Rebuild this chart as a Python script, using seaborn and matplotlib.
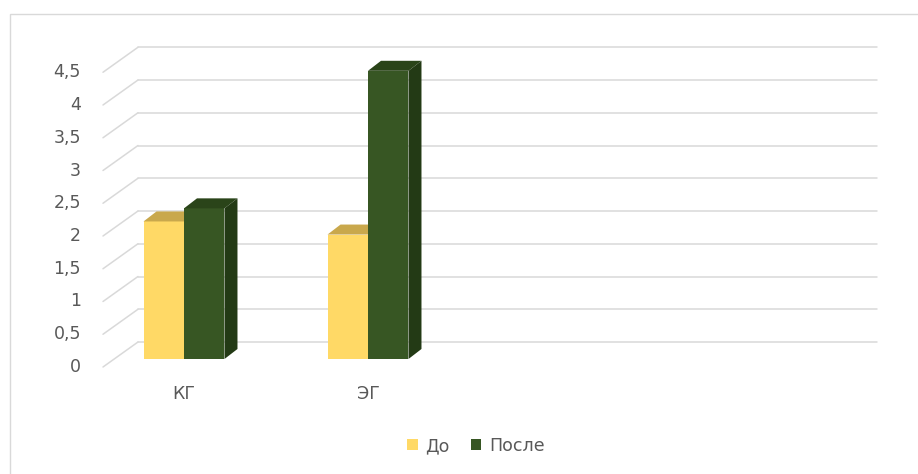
import matplotlib
matplotlib.use("Agg")
import matplotlib.pyplot as plt
import seaborn as sns
import pandas as pd
from matplotlib.patches import Polygon, Rectangle
from matplotlib.lines import Line2D

# ---- data ----
groups = ["КГ", "ЭГ"]
series = ["До", "После"]
values_do = [2.1, 1.9]
values_posle = [2.3, 4.4]
ytick_values = [0, 0.5, 1, 1.5, 2, 2.5, 3, 3.5, 4, 4.5]
ytick_labels = ["0", "0,5", "1", "1,5", "2", "2,5", "3", "3,5", "4", "4,5"]

front_colors = {"До": "#FFD966", "После": "#375623"}
top_colors = {"До": "#C9A84C", "После": "#2A4419"}
side_colors = {"До": "#BF9F40", "После": "#233A15"}

df = pd.DataFrame({
    "group": groups * 2,
    "series": [series[0]] * len(groups) + [series[1]] * len(groups),
    "value": values_do + values_posle,
})

sns.set_theme(style="white")
plt.rcParams["font.family"] = ["DejaVu Sans"]
FS = 12.5
TXT = "#595959"
GRID = "#D9D9D9"

W, H = 918, 474
fig = plt.figure(figsize=(W / 100, H / 100), dpi=100)
fig.patch.set_facecolor("white")

# outer chart border
fig.add_artist(Rectangle((10 / W, -0.1), 1.2, (H - 14) / H + 0.1,
                         transform=fig.transFigure, fill=False,
                         edgecolor=GRID, lw=1.0))

ax_left, ax_right = 114, 853
ax_base, ax_top = 359, 359 - 4.5 * 65.5
ax = fig.add_axes([ax_left / W, (H - ax_base) / H,
                   (ax_right - ax_left) / W, (ax_base - ax_top) / H])

sns.barplot(data=df, x="group", y="value", hue="series", order=groups,
            hue_order=series, palette=front_colors, width=0.44,
            linewidth=0, saturation=1, legend=False, ax=ax)

x0, x1 = -70 / 184, 669 / 184
ax.set_xlim(x0, x1)
ax.set_ylim(0, 4.5)
ax.set_autoscale_on(False)
ux = (x1 - x0) / (ax_right - ax_left)   # data units per pixel
uy = 4.5 / (ax_base - ax_top)

for s in ax.spines.values():
    s.set_visible(False)
ax.set_facecolor("none")
ax.set_yticks([])
ax.set_xlabel("")
ax.set_ylabel("")
ax.tick_params(axis="x", length=0, pad=19, labelsize=FS, labelcolor=TXT)

# walls: back plane offset (+24,+17) px, front plane (-11,-8) px
bdx, bdy = 24, 17
fdx, fdy = -11, -8
for v, lab in zip(ytick_values, ytick_labels):
    ax.add_line(Line2D([x0 + bdx * ux, x1 + bdx * ux],
                       [v + bdy * uy, v + bdy * uy],
                       color=GRID, lw=1.1, zorder=1, clip_on=False))
    ax.add_line(Line2D([x0 + fdx * ux, x0 + bdx * ux],
                       [v + fdy * uy, v + bdy * uy],
                       color=GRID, lw=1.1, zorder=1, clip_on=False))
    ax.text(x0 - 33 * ux, v + fdy * uy, lab, ha="right", va="center",
            fontsize=FS, color=TXT, clip_on=False)

# 3D depth of bars
ddx, ddy = 13, 10
bars = list(ax.patches)
n = len(groups)
for i, p in enumerate(bars):
    ser = series[i // n]
    z = 3 + 2 * (i // n)
    p.set_zorder(z)
    bx, bw, bh = p.get_x(), p.get_width(), p.get_height()
    top = Polygon([(bx, bh), (bx + bw, bh),
                   (bx + bw + ddx * ux, bh + ddy * uy),
                   (bx + ddx * ux, bh + ddy * uy)],
                  closed=True, facecolor=top_colors[ser], lw=0,
                  zorder=z + 0.5, clip_on=False)
    side = Polygon([(bx + bw, 0), (bx + bw + ddx * ux, ddy * uy),
                    (bx + bw + ddx * ux, bh + ddy * uy), (bx + bw, bh)],
                   closed=True, facecolor=side_colors[ser], lw=0,
                   zorder=z + 0.5, clip_on=False)
    ax.add_patch(top)
    ax.add_patch(side)

handles = [Rectangle((0, 0), 1, 1, facecolor=front_colors[s], lw=0)
           for s in series]
fig.legend(handles, series, loc="center", bbox_to_anchor=(476 / W, 1 - 446 / H),
           ncol=2, frameon=False, handlelength=0.6, handleheight=0.6,
           handletextpad=0.45, columnspacing=1.2, fontsize=FS,
           labelcolor=TXT)

fig.savefig("out.png", dpi=100, facecolor="white")
